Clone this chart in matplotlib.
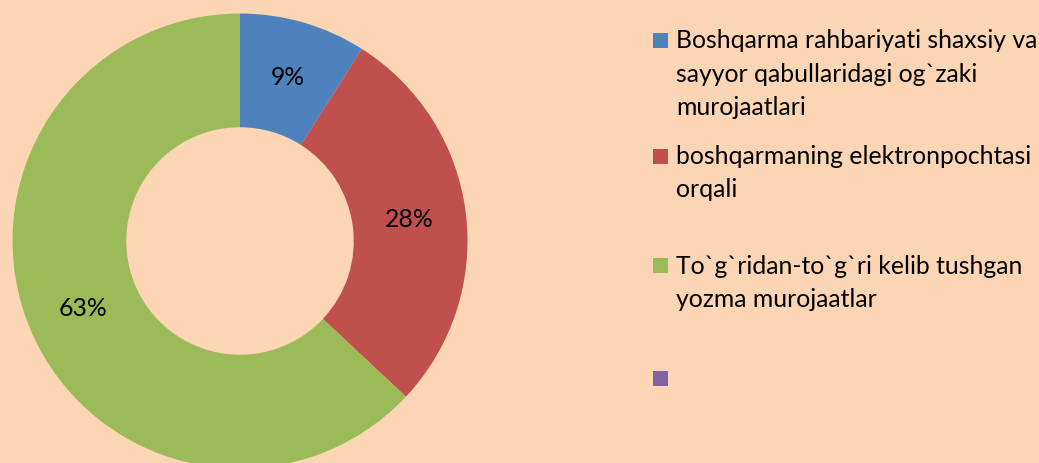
import matplotlib.pyplot as plt
from matplotlib.patches import Rectangle

labels = ["Boshqarma rahbariyati shaxsiy va\nsayyor qabullaridagi og`zaki\nmurojaatlari",
          "boshqarmaning elektronpochtasi\norqali",
          "To`g`ridan-to`g`ri kelib tushgan\nyozma murojaatlar",
          ""]
values = [9, 28, 63, 0]
colors = ['#4F81BD', '#C0504D', '#9BBB59', '#8064A2']
bg = '#FCD5B5'

plt.rcParams['font.family'] = ['Lato', 'DejaVu Sans']

W, H = 1039, 463
fig = plt.figure(figsize=(W / 100, H / 100), dpi=100, facecolor=bg)

# donut: centre (240, 241) px, outer radius 227.5 px
r = 227.5
cx, cy = 240, 241
ax = fig.add_axes([(cx - r) / W, (H - cy - r) / H, 2 * r / W, 2 * r / H])
ax.set_facecolor(bg)
wedges, texts, autotexts = ax.pie(
    values, colors=colors, startangle=90, counterclock=False, radius=1,
    wedgeprops=dict(width=0.5, linewidth=0),
    autopct=lambda p: f'{p:.0f}%' if p > 0 else '', pctdistance=0.75,
    textprops=dict(fontsize=17.8, color='black'))
ax.set_xlim(-1, 1)
ax.set_ylim(-1, 1)
ax.set_aspect('equal')
ax.axis('off')

# legend drawn in pixel space
lg = fig.add_axes([0, 0, 1, 1], facecolor='none')
lg.set_xlim(0, W)
lg.set_ylim(H, 0)
lg.axis('off')
rows = [40.5, 156, 265.5, 378.5]
for lab, c, y in zip(labels, colors, rows):
    lg.add_patch(Rectangle((653, y - 7.5), 15, 15, facecolor=c, edgecolor='none'))
    lg.text(676, y - 11, lab, fontsize=17.8, va='top', ha='left',
            linespacing=1.55, color='black')

fig.savefig('out.png', dpi=100, facecolor=bg)
